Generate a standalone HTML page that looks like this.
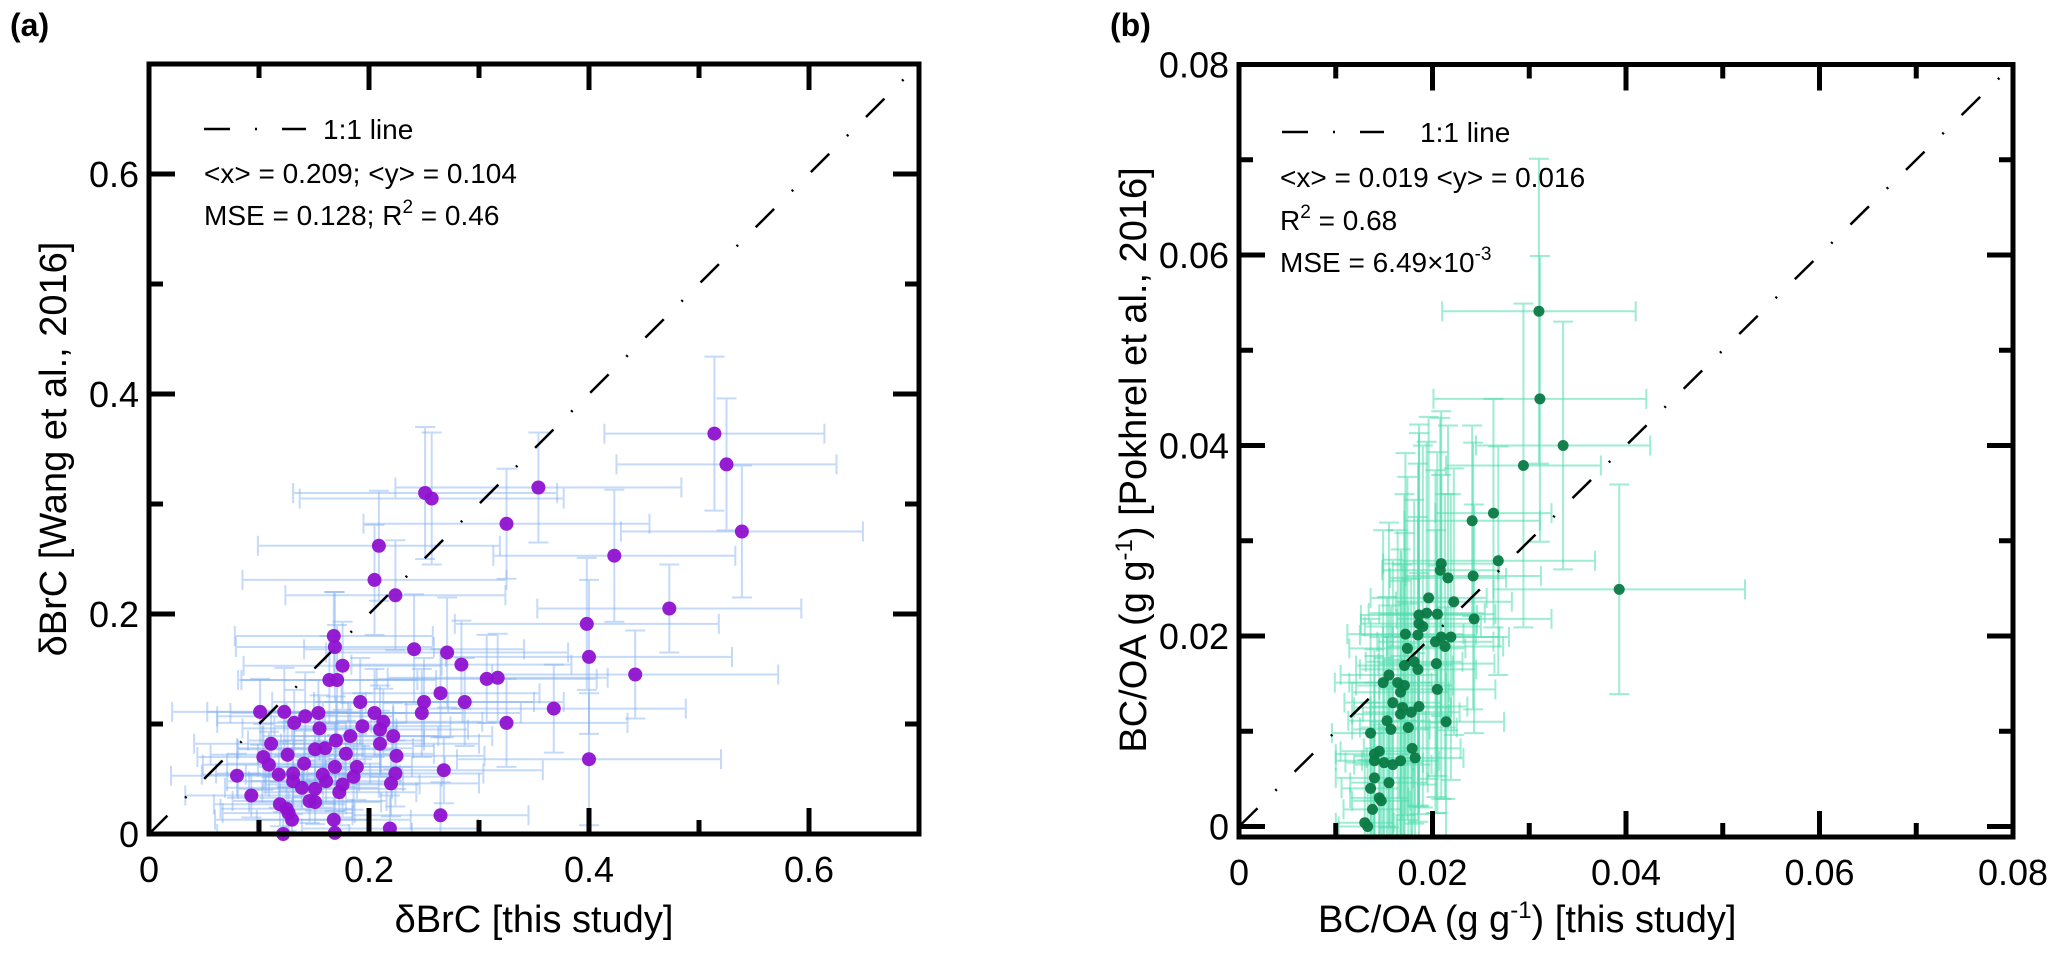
<!DOCTYPE html>
<html><head><meta charset="utf-8">
<style>
html,body{margin:0;padding:0;background:#fff;}
svg{display:block;font-family:"Liberation Sans",Arial,sans-serif;}
</style></head>
<body>
<svg id="fig" width="2067" height="968" viewBox="0 0 2067 968" xmlns="http://www.w3.org/2000/svg">
<defs>
<clipPath id="clipA"><rect x="149" y="64" width="770" height="770"/></clipPath>
<clipPath id="clipB"><rect x="1239" y="66" width="774" height="771"/></clipPath>
</defs>
<g id="panelA"></g>
<g id="panelB"></g>
</svg>
<script>
// ---- Panel (a) data ----
const aX = [0.514,0.525,0.539,0.354,0.251,0.257,0.325,0.209,0.423,0.205,
0.224,0.473,0.398,0.168,0.169,0.241,0.271,0.400,0.176,0.284,
0.164,0.171,0.307,0.317,0.442,0.265,0.192,0.250,0.287,0.368,
0.248,0.101,0.123,0.142,0.154,0.132,0.205,0.213,0.194,0.325,
0.155,0.210,0.183,0.222,0.111,0.170,0.210,0.151,0.160,0.126,
0.179,0.104,0.225,0.109,0.141,0.189,0.169,0.268,0.400,0.080,
0.118,0.131,0.158,0.224,0.186,0.131,0.161,0.176,0.220,0.139,
0.151,0.173,0.093,0.146,0.151,0.119,0.125,0.127,0.130,0.168,
0.265,0.219,0.122,0.169];
const aY = [0.364,0.336,0.275,0.315,0.310,0.305,0.282,0.262,0.253,0.231,
0.217,0.205,0.191,0.180,0.170,0.168,0.165,0.161,0.153,0.154,
0.140,0.140,0.141,0.142,0.145,0.128,0.120,0.120,0.120,0.114,
0.110,0.111,0.111,0.107,0.110,0.101,0.110,0.102,0.098,0.101,
0.096,0.095,0.089,0.089,0.082,0.085,0.082,0.077,0.078,0.072,
0.073,0.070,0.071,0.063,0.064,0.061,0.061,0.058,0.068,0.053,
0.054,0.055,0.054,0.055,0.052,0.048,0.048,0.045,0.046,0.042,
0.041,0.038,0.035,0.030,0.029,0.027,0.023,0.019,0.013,0.013,
0.017,0.005,0.000,0.001];
const aXerr = [0.10,0.10,0.11,0.13,0.12,0.12,0.13,0.11,0.11,0.12,
0.10,0.12,0.12,0.09,0.09,0.10,0.11,0.13,0.09,0.10,
0.08,0.09,0.10,0.10,0.13,0.09,0.08,0.10,0.09,0.12,
0.09,0.08,0.07,0.08,0.08,0.07,0.08,0.09,0.08,0.11,
0.07,0.08,0.08,0.09,0.07,0.08,0.09,0.07,0.08,0.07,
0.08,0.06,0.08,0.06,0.07,0.08,0.07,0.09,0.12,0.06,
0.07,0.07,0.07,0.08,0.08,0.06,0.07,0.07,0.08,0.07,
0.07,0.07,0.06,0.07,0.06,0.06,0.06,0.06,0.07,0.07,
0.08,0.08,0.06,0.07];
const aYerr = [0.07,0.06,0.06,0.05,0.06,0.06,0.05,0.05,0.06,0.05,
0.05,0.04,0.06,0.04,0.05,0.05,0.05,0.07,0.04,0.04,
0.04,0.05,0.04,0.04,0.04,0.04,0.04,0.04,0.04,0.04,
0.04,0.03,0.04,0.04,0.03,0.03,0.04,0.03,0.03,0.04,
0.03,0.04,0.03,0.03,0.03,0.04,0.03,0.03,0.03,0.03,
0.03,0.03,0.03,0.03,0.03,0.03,0.04,0.03,0.06,0.02,
0.03,0.03,0.03,0.03,0.03,0.03,0.02,0.03,0.03,0.02,
0.02,0.03,0.02,0.02,0.02,0.02,0.02,0.02,0.02,0.02,
0.03,0.03,0.02,0.02];
const aTicks = [0,0.2,0.4,0.6];
const aTickLabels = ["0","0.2","0.4","0.6"];
const aMinor = [0.1,0.3,0.5];

// ---- Panel (b) data ----
const bX = [0.0310,0.0311,0.0335,0.0294,0.0263,0.0241,0.0268,0.0209,0.0208,0.0242,
0.0216,0.0393,0.0196,0.0222,0.0186,0.0194,0.0205,0.0243,0.0186,0.0190,
0.0209,0.0219,0.0203,0.0213,0.0172,0.0185,0.0174,0.0181,0.0171,0.0185,
0.0204,0.0155,0.0149,0.0164,0.0171,0.0167,0.0205,0.0159,0.0186,0.0169,
0.0178,0.0167,0.0153,0.0214,0.0157,0.0175,0.0136,0.0179,0.0182,0.0145,
0.0140,0.0140,0.0150,0.0159,0.0167,0.0140,0.0155,0.0136,0.0145,0.0147,
0.0138,0.0130,0.0133];
const bY = [0.0541,0.0449,0.0400,0.0379,0.0329,0.0321,0.0279,0.0276,0.0269,0.0263,
0.0261,0.0249,0.0240,0.0236,0.0222,0.0224,0.0223,0.0218,0.0213,0.0210,
0.0199,0.0199,0.0194,0.0189,0.0202,0.0201,0.0187,0.0173,0.0169,0.0165,
0.0171,0.0159,0.0151,0.0151,0.0148,0.0141,0.0144,0.0130,0.0126,0.0125,
0.0120,0.0118,0.0111,0.0110,0.0102,0.0104,0.0098,0.0082,0.0072,0.0079,
0.0076,0.0069,0.0067,0.0065,0.0069,0.0051,0.0046,0.0040,0.0030,0.0027,
0.0018,0.0004,0.0000];
const bXerr = [0.010,0.011,0.009,0.008,0.006,0.007,0.010,0.006,0.006,0.007,
0.006,0.013,0.006,0.006,0.006,0.006,0.006,0.008,0.006,0.006,
0.006,0.006,0.006,0.006,0.006,0.006,0.006,0.005,0.005,0.006,
0.006,0.005,0.005,0.005,0.005,0.005,0.006,0.005,0.005,0.005,
0.005,0.005,0.004,0.006,0.004,0.005,0.004,0.005,0.005,0.004,
0.004,0.004,0.004,0.004,0.004,0.004,0.004,0.003,0.003,0.003,
0.003,0.003,0.003];
const bYerr = [0.016,0.015,0.013,0.017,0.012,0.010,0.012,0.016,0.016,0.014,
0.016,0.011,0.019,0.014,0.020,0.018,0.017,0.012,0.020,0.019,
0.017,0.015,0.018,0.016,0.019,0.018,0.018,0.017,0.018,0.016,
0.014,0.016,0.016,0.016,0.016,0.015,0.013,0.015,0.014,0.015,
0.014,0.014,0.013,0.012,0.013,0.013,0.012,0.011,0.011,0.012,
0.011,0.011,0.011,0.011,0.011,0.010,0.010,0.009,0.008,0.008,
0.008,0.007,0.007];
const bTicks = [0,0.02,0.04,0.06,0.08];
const bTickLabels = ["0","0.02","0.04","0.06","0.08"];
const bMinor = [0.01,0.03,0.05,0.07];

const NS = "http://www.w3.org/2000/svg";
function mk(tag, attrs, parent){
  const e = document.createElementNS(NS, tag);
  for (const k in attrs) e.setAttribute(k, attrs[k]);
  parent.appendChild(e);
  return e;
}

function drawPanel(g, cfg){
  const sx = v => cfg.x0 + (v - cfg.xmin) / (cfg.xmax - cfg.xmin) * (cfg.x1 - cfg.x0);
  const sy = v => cfg.y0 - (v - cfg.ymin) / (cfg.ymax - cfg.ymin) * (cfg.y0 - cfg.y1);
  const L = cfg.x0, R = sx(cfg.xmax), B = cfg.yb, T = sy(cfg.ymax);

  const eg = mk('g', {'clip-path': 'url(#' + cfg.clip + ')'}, g);
  
  
  for (let i = 0; i < cfg.X.length; i++){
    const cx = sx(cfg.X[i]), cy = sy(cfg.Y[i]);
    const xl = sx(cfg.X[i] - cfg.XE[i]), xr = sx(cfg.X[i] + cfg.XE[i]);
    const yt = sy(cfg.Y[i] + cfg.YE[i]), yb = sy(cfg.Y[i] - cfg.YE[i]);
    const c = cfg.ecol, w = 2, o = cfg.eop, cap = 10;
    const p = mk('path', {d: `M${xl},${cy}H${xr}M${cx},${yt}V${yb}M${xl},${cy-cap}V${cy+cap}M${xr},${cy-cap}V${cy+cap}M${cx-cap},${yt}H${cx+cap}M${cx-cap},${yb}H${cx+cap}`,
      stroke: c, 'stroke-width': w, fill: 'none', opacity: o}, eg);
    
    
  }
  const ln = mk('line', {x1: sx(Math.max(cfg.xmin,0)), y1: sy(0), x2: sx(Math.min(cfg.xmax, cfg.ymax)), y2: sy(Math.min(cfg.xmax, cfg.ymax)),
    stroke: '#000', 'stroke-width': 2.5, 'stroke-dasharray': '26 25 2 25', 'clip-path': 'url(#' + cfg.clip + ')'}, g);
  
  
  const pg = mk('g', {}, g);
  
  
  for (let i = 0; i < cfg.X.length; i++){
    const c = mk('circle', {cx: sx(cfg.X[i]), cy: sy(cfg.Y[i]), r: cfg.r, fill: cfg.pcol, 'fill-opacity': 0.95}, pg);
    
    
  }
  const fr = mk('rect', {x: L, y: T, width: R - L, height: B - T, fill: 'none', stroke: '#000', 'stroke-width': 5}, g);
  
  
  let d = '';
  cfg.ticks.forEach(v => { const x = sx(v), y = sy(v);
    d += `M${x},${B}V${B-26}M${x},${T}V${T+26}M${L},${y}H${L+26}M${R},${y}H${R-26}`; });
  cfg.minor.forEach(v => { const x = sx(v), y = sy(v);
    d += `M${x},${B}V${B-14}M${x},${T}V${T+14}M${L},${y}H${L+14}M${R},${y}H${R-14}`; });
  const tk = mk('path', {d: d, stroke: '#000', 'stroke-width': 5, fill: 'none'}, g);
  
  
  cfg.ticks.forEach((v, i) => {
    const tx = mk('text', {x: sx(v), y: B + 48, 'font-size': 36, 'text-anchor': 'middle', fill: '#000'}, g);
    tx.textContent = cfg.labels[i];
    
    
    const ty = mk('text', {x: L - 10, y: sy(v) + 13, 'font-size': 36, 'text-anchor': 'end', fill: '#000'}, g);
    ty.textContent = cfg.labels[i];
    
    
  });
  return {sx, sy};
}

const gA = document.getElementById('panelA');
drawPanel(gA, {x0:149, x1:919, xmin:0, xmax:0.7, y0:834, y1:64, ymin:0, ymax:0.7, yb:834,
  X:aX, Y:aY, XE:aXerr, YE:aYerr, ecol:'#7eaef0', eop:0.45, pcol:'#9012d0', r:7, clip:'clipA',
  ticks:aTicks, labels:aTickLabels, minor:aMinor});

const gB = document.getElementById('panelB');
drawPanel(gB, {x0:1239, x1:2013, xmin:0, xmax:0.08, y0:826.5, y1:64.5, ymin:0, ymax:0.08, yb:837,
  X:bX, Y:bY, XE:bXerr, YE:bYerr, ecol:'#4fdcad', eop:0.55, pcol:'#0b7a44', r:5.5, clip:'clipB',
  ticks:bTicks, labels:bTickLabels, minor:bMinor});
</script>

<svg width="2067" height="968" style="position:absolute;left:0;top:0" xmlns="http://www.w3.org/2000/svg" font-family="Liberation Sans, Arial, sans-serif">
  <text x="10" y="36" font-size="32" font-weight="bold">(a)</text>
  <text x="1110" y="36" font-size="32" font-weight="bold">(b)</text>

  <g>
    <line x1="204" y1="129" x2="306" y2="129" stroke="#000" stroke-width="2.5" stroke-dasharray="26 25 2 25"/>
    <text x="323" y="139" font-size="28">1:1 line</text>
    <text x="204" y="183" font-size="28">&lt;x&gt; = 0.209; &lt;y&gt; = 0.104</text>
    <text x="204" y="225" font-size="28">MSE = 0.128; R<tspan dy="-12" font-size="19">2</tspan><tspan dy="12"> = 0.46</tspan></text>
  </g>
  <text x="534" y="932" font-size="38" text-anchor="middle">δBrC [this study]</text>
  <text transform="translate(66,449) rotate(-90)" font-size="38" text-anchor="middle">δBrC [Wang et al., 2016]</text>

  <g>
    <line x1="1282" y1="132" x2="1384" y2="132" stroke="#000" stroke-width="2.5" stroke-dasharray="26 25 2 25"/>
    <text x="1420" y="142" font-size="28">1:1 line</text>
    <text x="1280" y="187" font-size="28">&lt;x&gt; = 0.019 &lt;y&gt; = 0.016</text>
    <text x="1280" y="230" font-size="28">R<tspan dy="-12" font-size="19">2</tspan><tspan dy="12"> = 0.68</tspan></text>
    <text x="1280" y="272" font-size="28">MSE = 6.49×10<tspan dy="-12" font-size="19">-3</tspan></text>
  </g>
  <text x="1318" y="932" font-size="38">BC/OA (g g<tspan dy="-14" font-size="24">-1</tspan><tspan dy="14">) [this study]</tspan></text>
  <text transform="translate(1146,460) rotate(-90)" font-size="38" text-anchor="middle">BC/OA (g g<tspan dy="-14" font-size="24">-1</tspan><tspan dy="14">) [Pokhrel et al., 2016]</tspan></text>
</svg>
</body></html>
